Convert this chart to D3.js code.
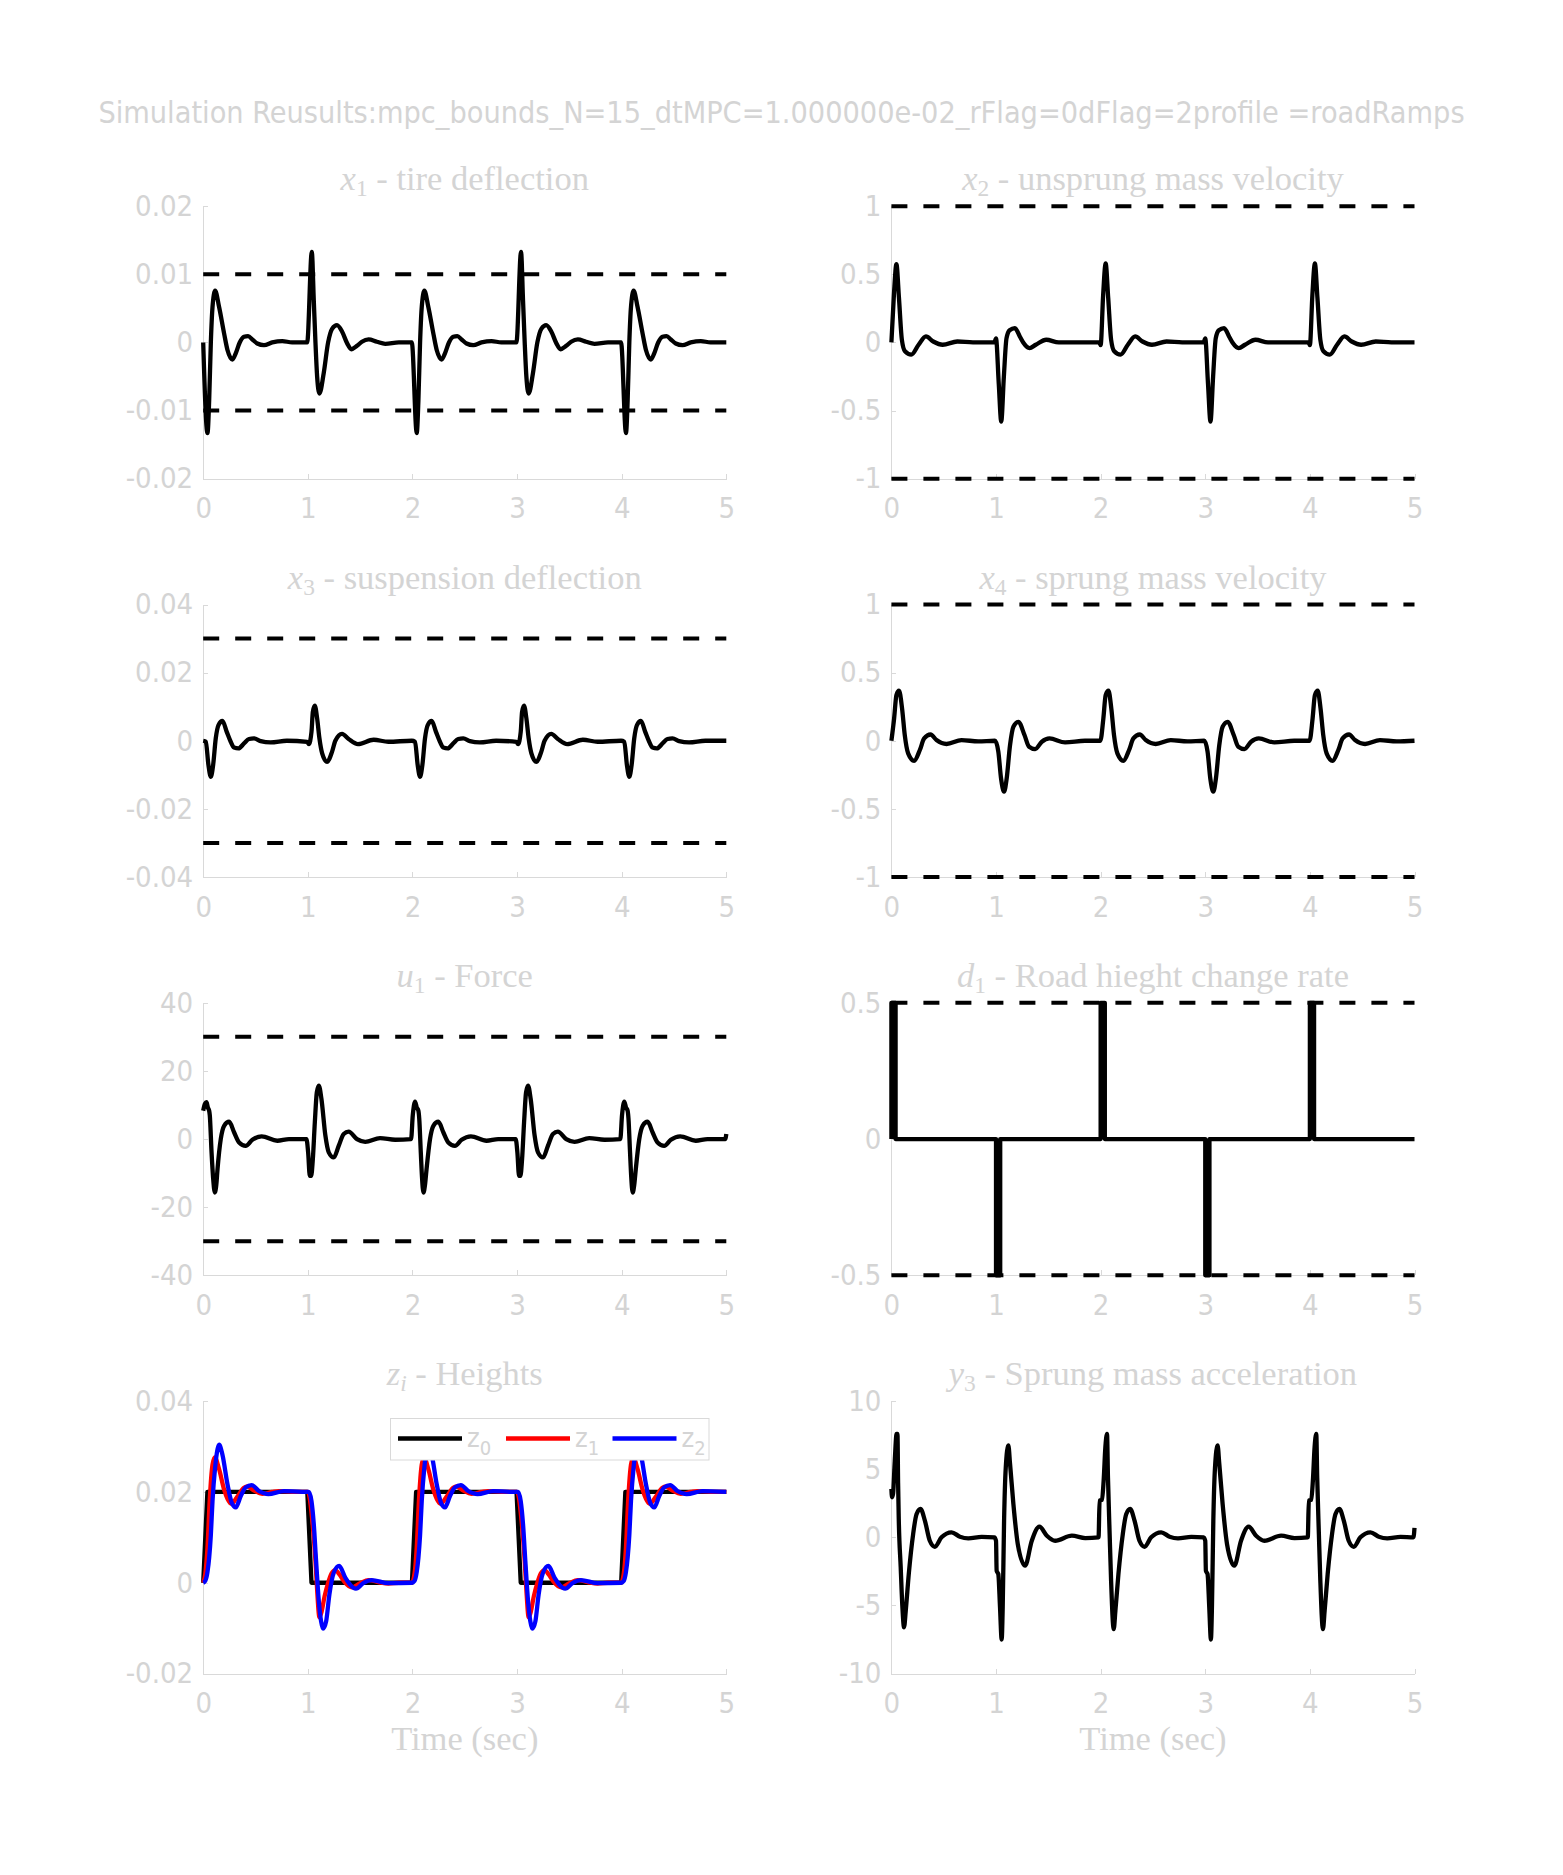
<!DOCTYPE html>
<html><head><meta charset="utf-8">
<script src="https://cdn.jsdelivr.net/npm/d3@7"></script>
<style>
body{margin:0;background:#fff;}
svg{display:block;}
</style></head><body>
<svg id="fig" width="1563" height="1875"></svg>
<script>
// ---------------- DATA ----------------
const figTitle = "Simulation Reusults:mpc_bounds_N=15_dtMPC=1.000000e-02_rFlag=0dFlag=2profile =roadRamps";
const xTicks = [0,1,2,3,4,5];
const xTickLabels = ["0","1","2","3","4","5"];

const x1Ticks = [-0.02,-0.01,0,0.01,0.02];
const x1TickLabels = ["-0.02","-0.01","0","0.01","0.02"];
const x1Bounds = [-0.01, 0.01];
const x1Data = [
 [0,0],[0.041,-0.0133],[0.057,-0.0085],[0.073,0],[0.089,0.0052],[0.114,0.0076],[0.152,0.0052],[0.2,0.0013],[0.232,-0.0011],[0.279,-0.0025],[0.311,-0.0016],[0.349,0],[0.39,0.00083],[0.429,0.00093],[0.47,0.00044],[0.517,-0.00015],[0.581,-0.0004],[0.66,0],[0.756,0.0002],[0.85,0],[0.994,0],
 [1.038,0.0133],[1.057,0.0062],[1.073,0],[1.089,-0.005],[1.111,-0.0075],[1.152,-0.0045],[1.194,0],[1.232,0.002],[1.279,0.00254],[1.327,0.0016],[1.375,-0.0001],[1.416,-0.001],[1.47,-0.0005],[1.517,0.0001],[1.581,0.00044],[1.66,0.0001],[1.74,-0.0002],[1.87,0],[1.994,0],
 [2.041,-0.0133],[2.057,-0.0085],[2.073,0],[2.089,0.0052],[2.114,0.0076],[2.152,0.0052],[2.2,0.0013],[2.232,-0.0011],[2.279,-0.0025],[2.311,-0.0016],[2.349,0],[2.39,0.00083],[2.429,0.00093],[2.47,0.00044],[2.517,-0.00015],[2.581,-0.0004],[2.66,0],[2.756,0.0002],[2.85,0],[2.994,0],
 [3.038,0.0133],[3.057,0.0062],[3.073,0],[3.089,-0.005],[3.111,-0.0075],[3.152,-0.0045],[3.194,0],[3.232,0.002],[3.279,0.00254],[3.327,0.0016],[3.375,-0.0001],[3.416,-0.001],[3.47,-0.0005],[3.517,0.0001],[3.581,0.00044],[3.66,0.0001],[3.74,-0.0002],[3.87,0],[3.994,0],
 [4.041,-0.0133],[4.057,-0.0085],[4.073,0],[4.089,0.0052],[4.114,0.0076],[4.152,0.0052],[4.2,0.0013],[4.232,-0.0011],[4.279,-0.0025],[4.311,-0.0016],[4.349,0],[4.39,0.00083],[4.429,0.00093],[4.47,0.00044],[4.517,-0.00015],[4.581,-0.0004],[4.66,0],[4.756,0.0002],[4.85,0],[5,0]
];

const x2Ticks = [-1,-0.5,0,0.5,1];
const x2TickLabels = ["-1","-0.5","0","0.5","1"];
const x2Bounds = [-1, 1];
const x2Data = [
 [0,0],[0.024,0.35],[0.048,0.575],[0.072,0.33],[0.1,0.02],[0.13,-0.065],[0.19,-0.09],[0.26,-0.017],[0.33,0.044],[0.4,0.007],[0.49,-0.017],[0.63,0.007],[0.78,0],[0.985,0],
 [1.0,0.03],[1.026,-0.3],[1.05,-0.58],[1.075,-0.25],[1.1,0.03],[1.13,0.09],[1.18,0.105],[1.23,0.04],[1.26,0],[1.32,-0.041],[1.38,-0.017],[1.48,0.02],[1.6,0],[1.985,0],
 [2.0,-0.02],[2.024,0.35],[2.048,0.58],[2.072,0.33],[2.1,0.02],[2.13,-0.065],[2.19,-0.09],[2.26,-0.017],[2.33,0.044],[2.4,0.007],[2.49,-0.017],[2.63,0.007],[2.78,0],[2.985,0],
 [3.0,0.03],[3.026,-0.3],[3.05,-0.58],[3.075,-0.25],[3.1,0.03],[3.13,0.09],[3.18,0.105],[3.23,0.04],[3.26,0],[3.32,-0.041],[3.38,-0.017],[3.48,0.02],[3.6,0],[3.985,0],
 [4.0,-0.02],[4.024,0.35],[4.048,0.58],[4.072,0.33],[4.1,0.02],[4.13,-0.065],[4.19,-0.09],[4.26,-0.017],[4.33,0.044],[4.4,0.007],[4.49,-0.017],[4.63,0.007],[4.78,0],[5,0]
];

const x3Ticks = [-0.04,-0.02,0,0.02,0.04];
const x3TickLabels = ["-0.04","-0.02","0","0.02","0.04"];
const x3Bounds = [-0.03, 0.03];
const x3Data = [
 [0,0],[0.025,-0.0003],[0.05,-0.0071],[0.073,-0.0106],[0.095,-0.0071],[0.12,0.0007],[0.146,0.0046],[0.184,0.0058],[0.225,0.0026],[0.263,-0.0003],[0.295,-0.002],[0.337,-0.00225],[0.39,-0.0008],[0.438,0.0005],[0.486,0.0007],[0.549,-0.0001],[0.644,-0.0005],[0.8,0],[0.994,-0.0003],
 [1.01,-0.001],[1.035,0.0026],[1.048,0.0085],[1.067,0.0103],[1.089,0.0066],[1.111,0.0007],[1.137,-0.0037],[1.184,-0.0062],[1.232,-0.0032],[1.263,0],[1.327,0.002],[1.39,0.0005],[1.479,-0.001],[1.629,0.0003],[1.77,-0.0003],[1.994,0],
 [2.025,-0.0003],[2.05,-0.0071],[2.073,-0.0106],[2.095,-0.0071],[2.12,0.0007],[2.146,0.0046],[2.184,0.0058],[2.225,0.0026],[2.263,-0.0003],[2.295,-0.002],[2.337,-0.00225],[2.39,-0.0008],[2.438,0.0005],[2.486,0.0007],[2.549,-0.0001],[2.644,-0.0005],[2.8,0],[2.994,-0.0003],
 [3.01,-0.001],[3.035,0.0026],[3.048,0.0085],[3.067,0.0103],[3.089,0.0066],[3.111,0.0007],[3.137,-0.0037],[3.184,-0.0062],[3.232,-0.0032],[3.263,0],[3.327,0.002],[3.39,0.0005],[3.479,-0.001],[3.629,0.0003],[3.77,-0.0003],[3.994,0],
 [4.025,-0.0003],[4.05,-0.0071],[4.073,-0.0106],[4.095,-0.0071],[4.12,0.0007],[4.146,0.0046],[4.184,0.0058],[4.225,0.0026],[4.263,-0.0003],[4.295,-0.002],[4.337,-0.00225],[4.39,-0.0008],[4.438,0.0005],[4.486,0.0007],[4.549,-0.0001],[4.644,-0.0005],[4.8,0],[5,0]
];

const x4Ticks = [-1,-0.5,0,0.5,1];
const x4TickLabels = ["-1","-0.5","0","0.5","1"];
const x4Bounds = [-1, 1];
const x4Data = [
 [0,0],[0.026,0.164],[0.048,0.335],[0.073,0.367],[0.102,0.237],[0.128,0.04],[0.16,-0.093],[0.217,-0.147],[0.272,-0.068],[0.313,0.017],[0.374,0.046],[0.431,0.005],[0.527,-0.024],[0.67,0.005],[0.83,-0.005],[0.99,0],
 [1.022,-0.08],[1.048,-0.276],[1.077,-0.374],[1.102,-0.276],[1.134,-0.032],[1.166,0.103],[1.214,0.139],[1.272,0.042],[1.316,-0.044],[1.374,-0.061],[1.438,-0.007],[1.511,0.017],[1.66,-0.012],[1.85,0],[1.997,0],
 [2.026,0.164],[2.048,0.335],[2.075,0.367],[2.102,0.237],[2.128,0.04],[2.16,-0.093],[2.217,-0.147],[2.272,-0.068],[2.313,0.017],[2.374,0.046],[2.431,0.005],[2.527,-0.024],[2.67,0.005],[2.83,-0.005],[2.99,0],
 [3.022,-0.08],[3.048,-0.276],[3.077,-0.374],[3.102,-0.276],[3.134,-0.032],[3.166,0.103],[3.214,0.139],[3.272,0.042],[3.316,-0.044],[3.374,-0.061],[3.438,-0.007],[3.511,0.017],[3.66,-0.012],[3.85,0],[3.997,0],
 [4.026,0.164],[4.048,0.335],[4.075,0.367],[4.102,0.237],[4.128,0.04],[4.16,-0.093],[4.217,-0.147],[4.272,-0.068],[4.313,0.017],[4.374,0.046],[4.431,0.005],[4.527,-0.024],[4.67,0.005],[4.83,-0.005],[5,0]
];

const u1Ticks = [-40,-20,0,20,40];
const u1TickLabels = ["-40","-20","0","20","40"];
const u1Bounds = [-30, 30];
const u1Data = [
 [0,8.3],[0.016,10.3],[0.032,10.8],[0.044,9.3],[0.057,8.3],[0.063,7.0],[0.08,-4],[0.095,-11.5],[0.111,-15.7],[0.125,-13.5],[0.137,-8.8],[0.168,0],[0.2,3.9],[0.248,5.1],[0.295,2.0],[0.343,-1.0],[0.406,-2.0],[0.47,-0.2],[0.559,0.8],[0.708,-0.5],[0.82,0],[0.987,0],
 [1.003,-3.9],[1.019,-10.8],[1.032,-10.8],[1.048,-5.9],[1.067,4.9],[1.086,13.7],[1.105,15.7],[1.13,11.8],[1.168,1.0],[1.2,-3.9],[1.248,-5.4],[1.295,-2.0],[1.343,1.5],[1.39,2.2],[1.47,0],[1.549,-0.8],[1.69,0.3],[1.835,-0.2],[1.987,0],
 [2.003,6.9],[2.025,11.0],[2.041,9.3],[2.057,8.3],[2.065,6.0],[2.08,-4],[2.092,-11.5],[2.105,-15.7],[2.12,-13.5],[2.135,-8.8],[2.168,0],[2.2,3.9],[2.248,5.1],[2.295,2.0],[2.343,-1.0],[2.406,-2.0],[2.47,-0.2],[2.559,0.8],[2.708,-0.5],[2.82,0],[2.987,0],
 [3.003,-3.9],[3.019,-10.8],[3.032,-10.8],[3.048,-5.9],[3.067,4.9],[3.086,13.7],[3.105,15.7],[3.13,11.8],[3.168,1.0],[3.2,-3.9],[3.248,-5.4],[3.295,-2.0],[3.343,1.5],[3.39,2.2],[3.47,0],[3.549,-0.8],[3.69,0.3],[3.835,-0.2],[3.987,0],
 [4.003,6.9],[4.025,11.0],[4.041,9.3],[4.057,8.3],[4.065,6.0],[4.08,-4],[4.092,-11.5],[4.105,-15.7],[4.12,-13.5],[4.135,-8.8],[4.168,0],[4.2,3.9],[4.248,5.1],[4.295,2.0],[4.343,-1.0],[4.406,-2.0],[4.47,-0.2],[4.559,0.8],[4.708,-0.5],[4.82,0],[4.99,0],[5,1.5]
];

const d1Ticks = [-0.5,0,0.5];
const d1TickLabels = ["-0.5","0","0.5"];
const d1Bounds = [-0.5, 0.5];
const d1Data = [
 [0,0],[0,0.5],[0.04,0.5],[0.04,0],[1,0],[1,-0.5],[1.04,-0.5],[1.04,0],[2,0],[2,0.5],[2.04,0.5],[2.04,0],
 [3,0],[3,-0.5],[3.04,-0.5],[3.04,0],[4,0],[4,0.5],[4.04,0.5],[4.04,0],[5,0]
];

const zTicks = [-0.02,0,0.02,0.04];
const zTickLabels = ["-0.02","0","0.02","0.04"];
const z0Data = [[0,0],[0.04,0.02],[0.995,0.02],[1.035,0],[1.995,0],[2.035,0.02],[2.995,0.02],[3.035,0],[3.995,0],[4.035,0.02],[5,0.02]];
const z1Data = [
 [0,0],[0.02,0.002],[0.041,0.0078],[0.063,0.0185],[0.089,0.026],[0.111,0.0276],[0.152,0.025],[0.2,0.0205],[0.232,0.0185],[0.27,0.0174],[0.327,0.019],[0.39,0.0209],[0.42,0.0212],[0.486,0.0203],[0.565,0.0196],[0.66,0.02],[0.72,0.0202],[0.85,0.02],[1.0,0.02],
 [1.01,0.0195],[1.04,0.0143],[1.073,0.0048],[1.09,-0.002],[1.111,-0.0076],[1.13,-0.0065],[1.16,-0.003],[1.194,0],[1.225,0.002],[1.263,0.0028],[1.3,0.0019],[1.35,0.0002],[1.422,-0.001],[1.5,-0.0001],[1.581,0.0006],[1.68,0.0001],[1.77,-0.0002],[1.87,0],[1.994,0],
 [2.02,0.002],[2.041,0.0078],[2.063,0.0185],[2.089,0.026],[2.111,0.0276],[2.152,0.025],[2.2,0.0205],[2.232,0.0185],[2.27,0.0174],[2.327,0.019],[2.39,0.0209],[2.42,0.0212],[2.486,0.0203],[2.565,0.0196],[2.66,0.02],[2.72,0.0202],[2.85,0.02],[3.0,0.02],
 [3.01,0.0195],[3.04,0.0143],[3.073,0.0048],[3.09,-0.002],[3.111,-0.0076],[3.13,-0.0065],[3.16,-0.003],[3.194,0],[3.225,0.002],[3.263,0.0028],[3.3,0.0019],[3.35,0.0002],[3.422,-0.001],[3.5,-0.0001],[3.581,0.0006],[3.68,0.0001],[3.77,-0.0002],[3.87,0],[3.994,0],
 [4.02,0.002],[4.041,0.0078],[4.063,0.0185],[4.089,0.026],[4.111,0.0276],[4.152,0.025],[4.2,0.0205],[4.232,0.0185],[4.27,0.0174],[4.327,0.019],[4.39,0.0209],[4.42,0.0212],[4.486,0.0203],[4.565,0.0196],[4.66,0.02],[4.72,0.0202],[4.85,0.02],[5,0.02]
];
const z2Data = [
 [0,0],[0.019,0.0004],[0.041,0.0024],[0.057,0.0055],[0.073,0.0105],[0.089,0.018],[0.114,0.0254],[0.137,0.0294],[0.152,0.0304],[0.184,0.0282],[0.232,0.0217],[0.273,0.0176],[0.311,0.0166],[0.359,0.0191],[0.406,0.021],[0.463,0.0215],[0.533,0.0202],[0.622,0.0195],[0.77,0.0202],[0.946,0.02],[1.01,0.02],
 [1.035,0.018],[1.057,0.0129],[1.079,0.0048],[1.105,-0.004],[1.127,-0.0085],[1.146,-0.0101],[1.175,-0.0085],[1.206,-0.0026],[1.248,0.0022],[1.3,0.0037],[1.359,0.0011],[1.46,-0.0013],[1.533,0],[1.61,0.0006],[1.77,-0.0001],[1.994,0],
 [2.019,0.0004],[2.041,0.0024],[2.057,0.0055],[2.073,0.0105],[2.089,0.018],[2.114,0.0254],[2.137,0.0294],[2.152,0.0304],[2.184,0.0282],[2.232,0.0217],[2.273,0.0176],[2.311,0.0166],[2.359,0.0191],[2.406,0.021],[2.463,0.0215],[2.533,0.0202],[2.622,0.0195],[2.77,0.0202],[2.946,0.02],[3.01,0.02],
 [3.035,0.018],[3.057,0.0129],[3.079,0.0048],[3.105,-0.004],[3.127,-0.0085],[3.146,-0.0101],[3.175,-0.0085],[3.206,-0.0026],[3.248,0.0022],[3.3,0.0037],[3.359,0.0011],[3.46,-0.0013],[3.533,0],[3.61,0.0006],[3.77,-0.0001],[3.994,0],
 [4.019,0.0004],[4.041,0.0024],[4.057,0.0055],[4.073,0.0105],[4.089,0.018],[4.114,0.0254],[4.137,0.0294],[4.152,0.0304],[4.184,0.0282],[4.232,0.0217],[4.273,0.0176],[4.311,0.0166],[4.359,0.0191],[4.406,0.021],[4.463,0.0215],[4.533,0.0202],[4.622,0.0195],[4.77,0.0202],[5,0.02]
];
const zLegend = [["z","0"],["z","1"],["z","2"]];
const zColors = ["#000000","#ff0000","#0000ff"];

const y3Ticks = [-10,-5,0,5,10];
const y3TickLabels = ["-10","-5","0","5","10"];
const y3Data = [
 [0,3.55],[0.006,2.94],[0.016,3.2],[0.032,5.6],[0.05,7.6],[0.058,7.6],[0.064,4.0],[0.07,1.47],[0.089,-2.2],[0.105,-5.1],[0.121,-6.6],[0.137,-5.4],[0.166,-2.7],[0.208,0.25],[0.24,1.7],[0.278,2.08],[0.32,1.23],[0.367,-0.25],[0.415,-0.69],[0.479,0],[0.575,0.37],[0.655,0.05],[0.735,-0.07],[0.863,0.03],[0.984,0],
 [1.0,-0.25],[1.006,-2.45],[1.022,-2.7],[1.038,-5.1],[1.054,-7.5],[1.064,-5.1],[1.077,1.2],[1.093,5.1],[1.118,6.74],[1.134,5.4],[1.166,2.45],[1.208,-0.49],[1.278,-2.08],[1.342,-0.25],[1.415,0.78],[1.486,0.12],[1.565,-0.25],[1.725,0.12],[1.853,-0.05],[1.98,0],
 [1.99,2.7],[2.013,2.75],[2.029,4.2],[2.045,6.6],[2.061,7.6],[2.07,4.4],[2.086,0.25],[2.1,-3.2],[2.125,-6.74],[2.141,-5.4],[2.17,-2.7],[2.212,0.25],[2.244,1.7],[2.282,2.08],[2.324,1.23],[2.371,-0.25],[2.419,-0.69],[2.483,0],[2.579,0.37],[2.659,0.05],[2.739,-0.07],[2.867,0.03],[2.984,0],
 [3.0,-0.25],[3.006,-2.45],[3.022,-2.7],[3.038,-5.1],[3.054,-7.5],[3.064,-5.1],[3.077,1.2],[3.093,5.1],[3.118,6.74],[3.134,5.4],[3.166,2.45],[3.208,-0.49],[3.278,-2.08],[3.342,-0.25],[3.415,0.78],[3.486,0.12],[3.565,-0.25],[3.725,0.12],[3.853,-0.05],[3.98,0],
 [3.99,2.7],[4.013,2.75],[4.029,4.2],[4.045,6.6],[4.061,7.6],[4.07,4.4],[4.086,0.25],[4.1,-3.2],[4.125,-6.74],[4.141,-5.4],[4.17,-2.7],[4.212,0.25],[4.244,1.7],[4.282,2.08],[4.324,1.23],[4.371,-0.25],[4.419,-0.69],[4.483,0],[4.579,0.37],[4.659,0.05],[4.739,-0.07],[4.867,0.03],[4.99,0],[5,0.7]
];

// ---------------- LAYOUT / STYLE ----------------
const colX = [203.2, 891.4], axW = 523.1;
const rowY = [206.2, 604.5, 1002.8, 1401.1], axH = 272.5;
const textCol = "#d4d4d4", axisCol = "#d9d9d9";
const sans = "'DejaVu Sans Condensed','DejaVu Sans',sans-serif";
const serif = "'Liberation Serif','DejaVu Serif',serif";
const tickFont = 29, titleFont = 34.5;
const lw = 4.3;

const svg = d3.select("#fig");
svg.append("rect").attr("width",1563).attr("height",1875).attr("fill","#fff");

const panels = [
 {c:0,r:0,dom:[-0.02,0.02],ticks:x1Ticks,labels:x1TickLabels,bounds:x1Bounds,series:[[x1Data,"#000",true]],t:["x","1"," - tire deflection"]},
 {c:1,r:0,dom:[-1,1],ticks:x2Ticks,labels:x2TickLabels,bounds:x2Bounds,series:[[x2Data,"#000",true]],t:["x","2"," - unsprung mass velocity"]},
 {c:0,r:1,dom:[-0.04,0.04],ticks:x3Ticks,labels:x3TickLabels,bounds:x3Bounds,series:[[x3Data,"#000",true]],t:["x","3"," - suspension deflection"]},
 {c:1,r:1,dom:[-1,1],ticks:x4Ticks,labels:x4TickLabels,bounds:x4Bounds,series:[[x4Data,"#000",true]],t:["x","4"," - sprung mass velocity"]},
 {c:0,r:2,dom:[-40,40],ticks:u1Ticks,labels:u1TickLabels,bounds:u1Bounds,series:[[u1Data,"#000",true]],t:["u","1"," - Force"]},
 {c:1,r:2,dom:[-0.5,0.5],ticks:d1Ticks,labels:d1TickLabels,bounds:d1Bounds,series:[[d1Data,"#000",false]],t:["d","1"," - Road hieght change rate"]},
 {c:0,r:3,dom:[-0.02,0.04],ticks:zTicks,labels:zTickLabels,bounds:[],series:[[z0Data,zColors[0],false],[z1Data,zColors[1],true],[z2Data,zColors[2],true]],t:["z","i"," - Heights"],legend:true,xlab:true},
 {c:1,r:3,dom:[-10,10],ticks:y3Ticks,labels:y3TickLabels,bounds:[],series:[[y3Data,"#000",true]],t:["y","3"," - Sprung mass acceleration"],xlab:true}
];

function styleAxis(g){
  g.select(".domain").attr("stroke",axisCol).attr("stroke-width",1);
  g.selectAll(".tick line").attr("stroke",axisCol).attr("stroke-width",1);
  g.selectAll(".tick text").attr("fill",textCol).attr("font-size",tickFont)
    .attr("font-family",sans).style("font-stretch","condensed");
  g.attr("shape-rendering","crispEdges");
}

panels.forEach(p=>{
  const x0 = colX[p.c], y0 = rowY[p.r];
  const x = d3.scaleLinear().domain([0,5]).range([x0, x0+axW]);
  const y = d3.scaleLinear().domain(p.dom).range([y0+axH, y0]);
  const g = svg.append("g");

  const gx = g.append("g").attr("transform",`translate(0,${y0+axH})`)
    .call(d3.axisBottom(x).tickValues(xTicks).tickFormat((d,i)=>xTickLabels[i]).tickSizeInner(-5).tickSizeOuter(0).tickPadding(19));
  styleAxis(gx);
  const gy = g.append("g").attr("transform",`translate(${x0},0)`)
    .call(d3.axisLeft(y).tickValues(p.ticks).tickFormat((d,i)=>p.labels[i]).tickSizeInner(-5).tickSizeOuter(0).tickPadding(10));
  styleAxis(gy);

  // bounds
  p.bounds.forEach(b=>{
    g.append("line").attr("x1",x(0)).attr("x2",x(5)).attr("y1",y(b)).attr("y2",y(b))
     .attr("stroke","#000").attr("stroke-width",4).attr("stroke-dasharray","16,16");
  });

  // series
  p.series.forEach(([data,col,smooth])=>{
    const line = d3.line().x(d=>x(d[0])).y(d=>y(d[1])).curve(smooth?d3.curveMonotoneX:d3.curveLinear);
    g.append("path").attr("d",line(data)).attr("fill","none").attr("stroke",col)
     .attr("stroke-width",lw).attr("stroke-linejoin","round").attr("stroke-linecap","butt");
  });

  // title
  const tt = g.append("text").attr("x",x0+axW/2).attr("y",y0-16).attr("text-anchor","middle")
    .attr("font-family",serif).attr("font-size",titleFont).attr("fill",textCol);
  tt.append("tspan").attr("font-style","italic").text(p.t[0]);
  tt.append("tspan").attr("font-size",titleFont*0.68).attr("font-style",p.t[1]==="i"?"italic":"normal").attr("dy",6).text(p.t[1]);
  tt.append("tspan").attr("dy",-6).text(p.t[2]);

  if(p.xlab){
    g.append("text").attr("x",x0+axW/2).attr("y",y0+axH+76).attr("text-anchor","middle")
     .attr("font-family",serif).attr("font-size",titleFont).attr("fill",textCol).text("Time (sec)");
  }

  if(p.legend){
    const lg = g.append("g");
    lg.append("rect").attr("x",390.5).attr("y",1418.5).attr("width",318.5).attr("height",41.5)
      .attr("fill","#fff").attr("stroke",axisCol).attr("stroke-width",1);
    const starts = [398, 506, 612.5];
    zLegend.forEach((lab,i)=>{
      lg.append("line").attr("x1",starts[i]).attr("x2",starts[i]+64).attr("y1",1438.5).attr("y2",1438.5)
        .attr("stroke",zColors[i]).attr("stroke-width",lw);
      const t = lg.append("text").attr("x",starts[i]+69).attr("y",1447).attr("font-family",sans)
        .style("font-stretch","condensed").attr("font-size",27).attr("fill",textCol);
      t.append("tspan").text(lab[0]);
      t.append("tspan").attr("font-size",20).attr("dy",8).text(lab[1]);
    });
  }
});

// figure title (fit to measured width)
const ft = svg.append("text").attr("x",781.5).attr("y",123).attr("text-anchor","middle")
  .attr("font-family",sans).style("font-stretch","condensed").attr("font-size",30).attr("fill",textCol).text(figTitle);
const len = ft.node().getComputedTextLength();
ft.attr("font-size", 30*1367/len);
</script></body></html>
